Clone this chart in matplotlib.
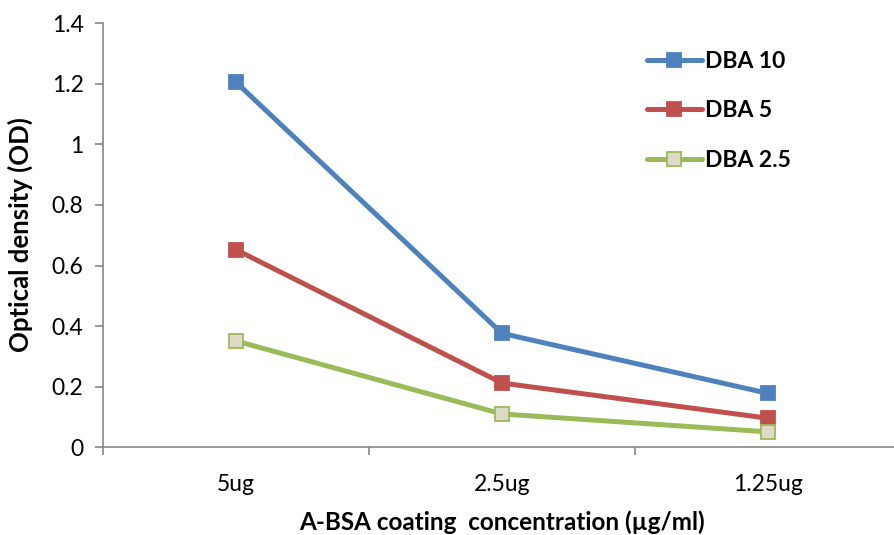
import matplotlib
matplotlib.use("Agg")
import matplotlib.pyplot as plt
from matplotlib.lines import Line2D

plt.rcParams['font.family'] = ['Lato', 'DejaVu Sans']

categories = ["5ug", "2.5ug", "1.25ug"]
dba10 = [1.205, 0.376, 0.178]
dba5 = [0.652, 0.212, 0.096]
dba25 = [0.351, 0.110, 0.051]
yticks = [0, 0.2, 0.4, 0.6, 0.8, 1, 1.2, 1.4]
ytick_labels = ["0", "0.2", "0.4", "0.6", "0.8", "1", "1.2", "1.4"]

W, H = 894, 535
fig = plt.figure(figsize=(W / 100, H / 100), dpi=100)
x0, x1 = 103, 901
y0, y1 = 447.3, 23.1
ax = fig.add_axes([x0 / W, 1 - y0 / H, (x1 - x0) / W, (y0 - y1) / H])

x = list(range(len(categories)))
series = [
    ("DBA 10", dba10, "#4F81BD", "#4F81BD", "#4F81BD"),
    ("DBA 5", dba5, "#C0504D", "#C0504D", "#C0504D"),
    ("DBA 2.5", dba25, "#9BBB59", "#DDDAC6", "#9BBB59"),
]
for name, vals, col, fill, edge in series:
    ax.plot(x, vals, color=col, lw=3.6, marker="s", ms=9.5,
            markerfacecolor=fill, markeredgecolor=edge, markeredgewidth=1.3,
            solid_capstyle="round", clip_on=False, zorder=3)

ax.set_xlim(-0.5, 2.5)
ax.set_ylim(0, 1.4)
ax.set_yticks(yticks)
ax.set_yticklabels(ytick_labels)
ax.set_xticks(x)
ax.set_xticklabels(categories)
ax.set_xticks([-0.5, 0.5, 1.5, 2.5], minor=True)
ax.tick_params(axis="x", which="major", length=0, pad=19, labelsize=16.5)
ax.tick_params(axis="x", which="minor", length=6, color="#868686", width=1.2)
ax.tick_params(axis="y", length=6, color="#868686", width=1.2, labelsize=16.5, pad=8)

for s in ["top", "right"]:
    ax.spines[s].set_visible(False)
for s in ["left", "bottom"]:
    ax.spines[s].set_color("#868686")
    ax.spines[s].set_linewidth(1.2)

fig.text(502 / W, 1 - 522 / H, "A-BSA coating  concentration (µg/ml)",
         ha="center", va="center", fontsize=17.5, fontweight="bold")
fig.text(20 / W, 1 - 235 / H, "Optical density (OD)", rotation=90,
         ha="center", va="center", fontsize=18.5, fontweight="bold")

handles = [Line2D([], [], color=c, lw=3.6, marker="s", ms=9.5,
                  markerfacecolor=f, markeredgecolor=e, markeredgewidth=1.3,
                  solid_capstyle="round")
           for _, _, c, f, e in series]
leg = fig.legend(handles, [s[0] for s in series], loc="upper left",
                 bbox_to_anchor=(626 / W, 1 - 30 / H), frameon=False,
                 handlelength=2.4, handletextpad=0.15, labelspacing=1.25,
                 prop={"weight": "bold", "size": 16.5})

fig.savefig("out.png", dpi=100)
